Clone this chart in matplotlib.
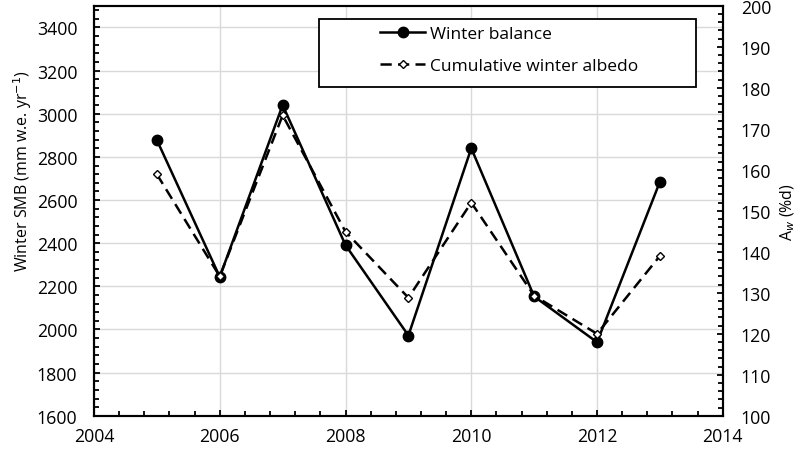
import matplotlib
matplotlib.use("Agg")
import matplotlib.pyplot as plt
from matplotlib.ticker import MultipleLocator
from matplotlib.patches import Rectangle
from matplotlib.lines import Line2D

plt.rcParams['font.family'] = ['Open Sans', 'DejaVu Sans']

years = [2005, 2006, 2007, 2008, 2009, 2010, 2011, 2012, 2013]
winter_balance = [2878, 2244, 3040, 2391, 1972, 2840, 2153, 1941, 2685]
winter_albedo = [158.9, 134.0, 173.3, 144.9, 128.8, 152.0, 129.3, 120.0, 139.0]

fig = plt.figure(figsize=(8, 4.56), dpi=100)
ax = fig.add_axes([0.1175, 0.086, 0.9035 - 0.1175, 0.985 - 0.086])
ax2 = ax.twinx()

ax.set_xlim(2004, 2014)
ax.set_ylim(1600, 3500)
ax2.set_ylim(100, 200)

ax.grid(True, which='major', color='#d9d9d9', linewidth=1.0)
ax.set_axisbelow(True)

ax.plot(years, winter_balance, '-', color='black', lw=1.8, marker='o',
        markersize=7.5, markerfacecolor='black', zorder=3)
ax2.plot(years, winter_albedo, color='black', lw=1.8, dashes=(4.5, 2.5),
         marker='D', markersize=4.5, markerfacecolor='white',
         markeredgecolor='black', markeredgewidth=1.0, zorder=3)

ax.xaxis.set_major_locator(MultipleLocator(2))
ax.xaxis.set_minor_locator(MultipleLocator(0.4))
ax.yaxis.set_major_locator(MultipleLocator(200))
ax.yaxis.set_minor_locator(MultipleLocator(40))
ax2.yaxis.set_major_locator(MultipleLocator(10))
ax2.yaxis.set_minor_locator(MultipleLocator(2))

ax.set_yticks([1600, 1800, 2000, 2200, 2400, 2600, 2800, 3000, 3200, 3400])

for a in (ax, ax2):
    for s in a.spines.values():
        s.set_linewidth(1.5)
        s.set_color('black')
    a.tick_params(which='both', direction='in', width=1.3, labelsize=12.8,
                  colors='black')
    a.tick_params(which='major', length=4)
    a.tick_params(which='minor', length=3.5)

ax.tick_params(axis='x', which='both', top=False, pad=8)
ax.tick_params(axis='y', which='both', right=False, pad=12)
ax2.tick_params(axis='y', which='both', left=False, pad=13)

ax.set_ylabel('Winter SMB (mm w.e. yr$^{-1}$)', fontsize=11.5, labelpad=3)
ax.yaxis.set_label_coords(-0.095, 0.60)
ax2.set_ylabel('A$_{w}$ (%d)', fontsize=11.5, labelpad=5)

# legend frame
leg_rect = Rectangle((0.358, 0.802), 0.599, 0.166, transform=ax.transAxes,
                     facecolor='white', edgecolor='black', linewidth=1.3,
                     zorder=5)
ax2.add_patch(leg_rect)
h1 = Line2D([], [], color='black', lw=1.8, marker='o', markersize=7.5)
h2 = Line2D([], [], color='black', lw=1.8, dashes=(4.5, 2.5), marker='D',
            markersize=4.5, markerfacecolor='white', markeredgewidth=1.0)
leg = ax2.legend([h1, h2], ['Winter balance', 'Cumulative winter albedo'],
                 loc='upper left', bbox_to_anchor=(0.43, 0.99),
                 frameon=False, fontsize=12.5, handlelength=2.6,
                 handletextpad=0.3, labelspacing=0.95)
leg.set_zorder(6)

fig.savefig('out.png', dpi=100)
